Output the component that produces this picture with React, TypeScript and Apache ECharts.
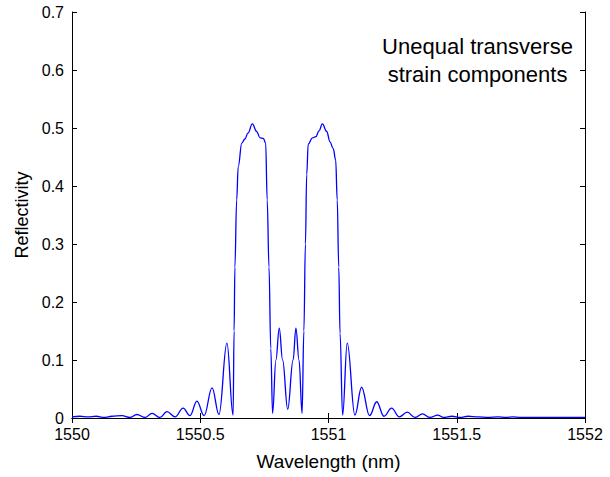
import React, { useEffect, useRef } from "react";
import * as echarts from "echarts";

const wavelength = [
  1550.0, 1550.031, 1550.062, 1550.094, 1550.125, 1550.156, 1550.195, 1550.226, 1550.253, 1550.285,
  1550.312, 1550.343, 1550.37, 1550.402, 1550.433, 1550.46, 1550.487, 1550.515, 1550.546, 1550.573,
  1550.604, 1550.628, 1550.632, 1550.635, 1550.642, 1550.648, 1550.662, 1550.674, 1550.686, 1550.703,
  1550.72, 1550.733, 1550.746, 1550.755, 1550.761, 1550.768, 1550.775, 1550.782, 1550.795, 1550.808,
  1550.821, 1550.841, 1550.862, 1550.873, 1550.885, 1550.897, 1550.904, 1550.91, 1550.915, 1550.921,
  1550.937, 1550.951, 1550.963, 1550.976, 1550.993, 1551.006, 1551.018, 1551.028, 1551.034, 1551.04,
  1551.045, 1551.055, 1551.073, 1551.103, 1551.129, 1551.16, 1551.188, 1551.216, 1551.246, 1551.276,
  1551.307, 1551.337, 1551.366, 1551.396, 1551.426, 1551.448, 1551.481, 1551.513, 1551.544, 1551.583,
  1551.622, 1551.661, 1551.692, 1551.719, 1551.747, 1552.0,
];

const reflectivity = [
  0.002, 0.003, 0.002, 0.003, 0.001, 0.003, 0.004, 0.001, 0.006, 0.001,
  0.008, 0.001, 0.011, 0.002, 0.017, 0.004, 0.029, 0.004, 0.052, 0.006,
  0.129, 0.005, 0.15, 0.26, 0.376, 0.433, 0.474, 0.481, 0.491, 0.507,
  0.494, 0.483, 0.482, 0.474, 0.376, 0.26, 0.12, 0.008, 0.1, 0.155,
  0.1, 0.015, 0.1, 0.155, 0.1, 0.008, 0.15, 0.3, 0.42, 0.472,
  0.483, 0.485, 0.495, 0.507, 0.494, 0.476, 0.465, 0.445, 0.376, 0.26,
  0.146, 0.005, 0.129, 0.005, 0.053, 0.004, 0.028, 0.003, 0.017, 0.002,
  0.01, 0.001, 0.007, 0.001, 0.005, 0.001, 0.003, 0.001, 0.003, 0.002,
  0.001, 0.002, 0.001, 0.002, 0.001, 0.001,
];

const xTicks = [1550, 1550.5, 1551, 1551.5, 1552];
const yTicks = [0, 0.1, 0.2, 0.3, 0.4, 0.5, 0.6, 0.7];
const annotation = ["Unequal transverse", "strain components"];

export default function App() {
  const ref = useRef<HTMLDivElement>(null);
  useEffect(() => {
    if (!ref.current) return;
    const chart = echarts.init(ref.current, undefined, { renderer: "svg" });
    const font = "Liberation Sans, Arial, sans-serif";
    const common = {
      axisLine: { show: true, lineStyle: { color: "#000", width: 1 } },
      axisTick: { show: true, inside: true, length: 5, lineStyle: { color: "#000" } },
      splitLine: { show: false },
    };
    chart.setOption({
      animation: false,
      backgroundColor: "#fff",
      grid: { left: 72, right: 25, top: 12, bottom: 59, containLabel: false },
      xAxis: [
        {
          type: "value",
          min: xTicks[0],
          max: xTicks[xTicks.length - 1],
          interval: 0.5,
          ...common,
          axisLabel: {
            color: "#000",
            fontFamily: font,
            fontSize: 16,
            lineHeight: 14,
            margin: 9,
            formatter: (v: number) => String(v),
          },
          name: "Wavelength (nm)",
          nameLocation: "middle",
          nameGap: 34,
          nameTextStyle: { color: "#000", fontFamily: font, fontSize: 19 },
        },
        {
          type: "value",
          position: "top",
          min: xTicks[0],
          max: xTicks[xTicks.length - 1],
          interval: 0.5,
          ...common,
          axisLabel: { show: false },
        },
      ],
      yAxis: [
        {
          type: "value",
          min: yTicks[0],
          max: yTicks[yTicks.length - 1],
          interval: 0.1,
          ...common,
          axisLabel: {
            color: "#000",
            fontFamily: font,
            fontSize: 16,
            lineHeight: 14,
            margin: 8,
            formatter: (v: number) => String(Math.round(v * 10) / 10),
          },
          name: "Reflectivity",
          nameLocation: "middle",
          nameGap: 40,
          nameTextStyle: { color: "#000", fontFamily: font, fontSize: 18 },
        },
        {
          type: "value",
          position: "right",
          min: yTicks[0],
          max: yTicks[yTicks.length - 1],
          interval: 0.1,
          ...common,
          axisLabel: { show: false },
        },
      ],
      series: [
        {
          type: "line",
          data: wavelength.map((w, i) => [w, reflectivity[i]]),
          showSymbol: false,
          smooth: 0.4,
          smoothMonotone: "x",
          lineStyle: { color: "#0000ff", width: 1.3 },
          itemStyle: { color: "#0000ff" },
        },
      ],
      graphic: [
        {
          type: "text",
          x: 477.5,
          y: 32,
          style: {
            text: annotation.join("\n"),
            fill: "#000",
            font: `22px ${font}`,
            align: "center",
            verticalAlign: "top",
            lineHeight: 28,
          },
        },
      ],
    });
    return () => chart.dispose();
  }, []);
  return (
    <div
      ref={ref}
      style={{ position: "fixed", left: 0, top: 0, width: 610, height: 477 }}
    />
  );
}
